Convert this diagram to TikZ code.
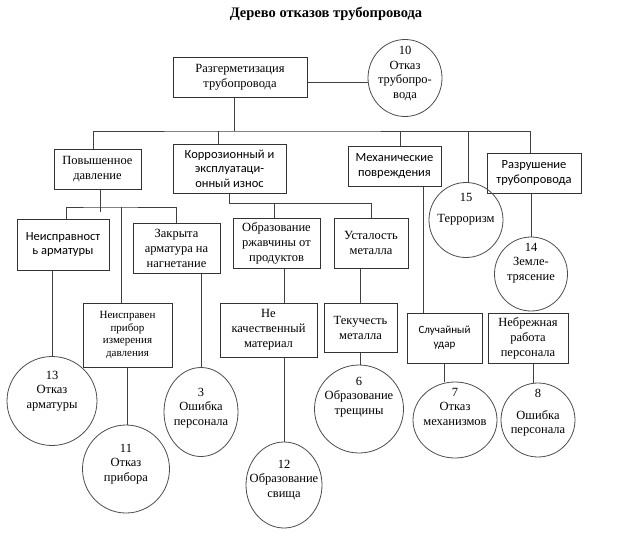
\documentclass[tikz,border=0pt]{standalone}
\usepackage{fontspec}
\setmainfont{Liberation Serif}
\newfontfamily\calfont{Carlito}
\usetikzlibrary{shapes.geometric}
\newcommand{\circtext}[2]{\makebox[0pt]{\raisebox{#1}[0pt][0pt]{\begin{tabular}{@{}c@{}}#2\end{tabular}}}}

\begin{document}
\begin{tikzpicture}[x=1pt,y=-1pt,
    box/.style={draw=black!80,line width=1pt,rectangle,align=center,inner sep=1pt,font=\fontsize{12.5}{15}\selectfont},
    sbox/.style={box,font=\calfont\fontsize{12.5}{14.5}\selectfont},
    smallbox/.style={box,font=\fontsize{11}{12.8}\selectfont},
    ssmall/.style={box,font=\calfont\fontsize{11}{14}\selectfont},
    circ/.style={draw=black!70,line width=0.8pt,ellipse,inner sep=0pt,font=\fontsize{12.5}{14.5}\selectfont},
    wire/.style={draw=black!75,line width=0.8pt}]
      \useasboundingbox (0,0) rectangle (623,533);
      \node[font=\bfseries\fontsize{14.5}{17}\selectfont] (title) at (326,14) {Дерево отказов трубопровода};
      \def \Boxes{
        razg/240/77/134/40/box/{Разгерметизация\\трубопровода},
        povysh/97.5/169/87/40/box/{Повышенное\\давление},
        korr/229.5/168.5/113/49/sbox/{Коррозионный и\\эксплуатаци-\\онный износ},
        mekh/394.5/166/93/40/sbox/{Механические\\повреждения},
        razr/534/173/94/40/sbox/{Разрушение\\трубопровода},
        neispr/63/244.5/92/51/sbox/{Неисправност\\ь арматуры},
        zakr/176.5/248/87/50/box/{Закрыта\\арматура на\\нагнетание},
        rzhav/276.5/243/87/50/box/{Образование\\ржавчины от\\продуктов},
        ustal/371/243/74/50/box/{Усталость\\металла},
        pribor/127.5/335/89/64/smallbox/{Неисправен\\прибор\\измерения\\давления},
        kachestv/268.5/330/97/54/box/{Не\\качественный\\материал},
        tekuch/360.5/327.5/73/49/box/{Текучесть\\металла},
        sluch/444.5/338/75/50/ssmall/{Случайный\\удар},
        nebr/528/338/80/50/box/{Небрежная\\работа\\персонала}}
      \def \Circles{
        c10/405/78/74/77/1.5/{10\\Отказ\\трубопро-\\вода},
        c15/466/220/74/75/8/{15\\[7pt]Терроризм},
        c14/531/274/73/74/8/{14\\Земле-\\трясение},
        c13/52/401/90/89/7/{13\\Отказ\\арматуры},
        c11/126/469/87/88/2/{11\\Отказ\\прибора},
        c3/201/412/74/89/1/{3\\Ошибка\\персонала},
        c12/284/485/76/86/2/{12\\Образование\\свища},
        c6/359/409/89/88/9/{6\\Образование\\трещины},
        c7/455/420/84/76/9/{7\\Отказ\\механизмов},
        c8/538/420/74/74/4/{8\\[7pt]Ошибка\\персонала}}
      \foreach \id / \x / \y / \w / \h / \s / \t in \Boxes{
        \node[\s,minimum width=\w pt,minimum height=\h pt] (\id) at (\x, \y) {\t};
      }
      \foreach \id / \x / \y / \w / \h / \r / \t in \Circles{
        \node[circ,minimum width=\w pt,minimum height=\h pt] (\id) at (\x, \y) {\circtext{\r pt}{\t}};
      }
      \coordinate (b0) at (234,131);
      \coordinate (b1) at (100,207);
      \coordinate (b2) at (229.5,203);
      \draw[wire] ([yshift=-5pt]razg.east) -- ([yshift=-5pt]razg.east -| c10.west);
      \draw[wire] (razg.south -| b0) -- (b0);
      \draw[wire] (povysh.north -| 93,0) |- (b0) -| (razr.north -| 530,0);
      \foreach \n / \x in {korr/218, mekh/400, c15/468}{
        \draw[wire] (b0 -| \x,0) -- (\n.north -| \x,0);
      }
      \draw[wire] (povysh.south -| b1) -- ([yshift=-5pt]b1);
      \draw[wire] (neispr.north -| 66,0) |- (b1) -| (zakr.north -| 176,0);
      \draw[wire] (b1 -| 121,0) -- (pribor.north -| 121,0);
      \draw[wire] (korr.south) -- (b2) -| (ustal.north);
      \draw[wire] (b2 -| 274,0) -- (rzhav.north -| 274,0);
      \draw[wire] (neispr.south -| c13) -- (c13.north);
      \draw[wire] (pribor.south) -- (pribor.south |- c11.north);
      \draw[wire] (zakr.south -| c3) -- (c3.north);
      \draw[wire] (rzhav.south -| c12) -- (kachestv.north -| c12);
      \draw[wire] (kachestv.south -| c12) -- (c12.north);
      \draw[wire] (ustal.south -| tekuch) -- (tekuch.north);
      \draw[wire] (tekuch.south) -- (tekuch.south |- c6.north);
      \draw[wire] (mekh.south -| 423,0) -- (sluch.north -| 423,0);
      \draw[wire] (sluch.south) -- (sluch.south |- c7.north);
      \draw[wire] (razr.south -| c14) -- (c14.north);
      \draw[wire] (nebr.south -| 533,0) -- (c8.north -| 533,0);
    \end{tikzpicture}
\end{document}
